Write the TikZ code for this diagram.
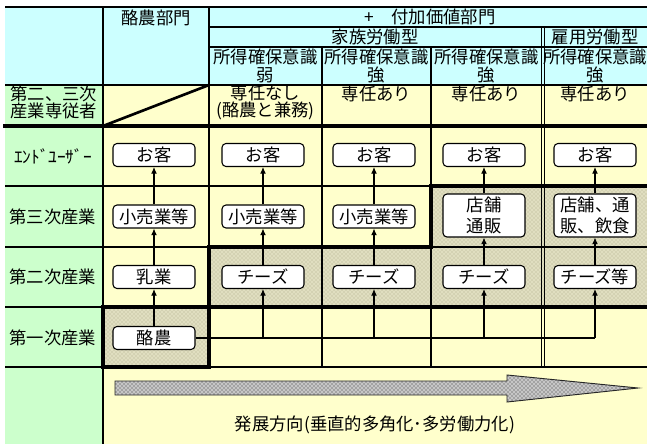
\documentclass[tikz,border=0pt]{standalone}
\usepackage{fontspec}
\setmainfont{Noto Sans CJK JP}
\usetikzlibrary{arrows.meta,patterns}
\definecolor{cblue}{HTML}{CCFFFF}
\definecolor{cyel}{HTML}{FFFFCC}
\definecolor{cgreen}{HTML}{CCFFCC}
\definecolor{chatch}{HTML}{E0DEC0}
\definecolor{chdot}{HTML}{B0AD8A}
\tikzset{
  thinln/.style={line width=1pt},
  thickln/.style={line width=3pt, line join=miter, line cap=rect},
  txt/.style={inner sep=0pt, font=\fontsize{13}{13}\selectfont, align=center},
  box/.style={draw, line width=0.8pt, rounded corners=3pt, fill=white, inner sep=0pt,
    minimum width=61.5pt, minimum height=17.25pt, align=center,
    font=\fontsize{13}{15.5}\selectfont},
  box2/.style={box, minimum height=32.25pt},
  arr/.style={line width=0.8pt, -{Latex[length=5pt,width=4.5pt]}},
  conn/.style={line width=0.8pt},
  hatch/.style={fill=chatch, postaction={pattern=crosshatch dots, pattern color=chdot}}
}
\begin{document}
\begin{tikzpicture}[x=0.75pt,y=-0.75pt]
\useasboundingbox (0,0) rectangle (647,444);
\fill[white] (0,0) rectangle (647,444);
% backgrounds
\fill[cblue] (5,7) rectangle (647,85);
\fill[cgreen] (5,85) rectangle (103,444);
\fill[cyel] (103,85) rectangle (647,444);
\path[hatch] (103,307) rectangle (209,367);
\path[hatch] (209,247) rectangle (647,307);
\path[hatch] (431,186) rectangle (647,247);
% thin grid lines
\draw[line width=1.5pt] (5,7) -- (647,7);
\draw[thinln] (209,27) -- (647,27);
\draw[thinln] (209,47) -- (647,47);
\draw[line width=1.5pt] (5,85) -- (647,85);
\draw[thinln] (5,186) -- (431,186);
\draw[thinln] (5,247) -- (209,247) (431,247) -- (647,247);
\draw[thinln] (5,307) -- (103,307);
\draw[thinln] (5,367) -- (103,367) (209,367) -- (647,367);
\draw[thinln] (103,7) -- (103,444);
\draw[thinln] (209,7) -- (209,247);
\draw[thinln] (322,47) -- (322,367);
\draw[thinln] (431,47) -- (431,367);
\draw[thinln] (541.2,27) -- (541.2,367);
\draw[thinln] (544.2,27) -- (544.2,367);
% diagonal
\draw[line width=2pt] (103,126) -- (209,85);
% thick lines
\draw[thickln] (5,126) -- (647,126);
\draw[thickln] (647,186) -- (431,186) -- (431,247) -- (209,247) -- (209,367) -- (103,367) -- (103,307) -- (647,307);
% header texts
\node[txt] (hA) at (156,18) {酪農部門};
\node[txt] (hB) at (430,17) {+　付加価値部門};
\node[txt] (hC) at (375,37) {家族労働型};
\node[txt] (hD) at (595,37) {雇用労働型};
\node[txt] (s2) at (265.5,66) {所得確保意識\\弱};
\node[txt] (s3) at (376.5,66) {所得確保意識\\強};
\node[txt] (s4) at (486.5,66) {所得確保意識\\強};
\node[txt] (s5) at (595,66) {所得確保意識\\強};
\node[txt] (e2) at (265.5,102.5) {専任なし\\(酪農と兼務)};
\node[txt] (e3) at (376.5,94) {専任あり};
\node[txt] (e4) at (486.5,94) {専任あり};
\node[txt] (e5) at (595,94) {専任あり};
% row labels
\node[txt] (l0) at (54,102.5) {第二、三次\\産業専従者};
\node[txt] (l1) at (53,156) {ｴﾝﾄﾞﾕｰｻﾞｰ};
\node[txt] (l2) at (53,216.5) {第三次産業};
\node[txt] (l3) at (53,277) {第二次産業};
\node[txt] (l4) at (53,337.5) {第一次産業};
% boxes
\node[box] (k1) at (154,155) {お客};
\node[box] (k2) at (263,155) {お客};
\node[box] (k3) at (374,155) {お客};
\node[box] (k4) at (484,155) {お客};
\node[box] (k5) at (595,155) {お客};
\node[box] (r1) at (154,216.5) {小売業等};
\node[box] (r2) at (263,216.5) {小売業等};
\node[box] (r3) at (374,216.5) {小売業等};
\node[box2] (r4) at (484,215.5) {店舗\\通販};
\node[box2] (r5) at (595,215.5) {店舗、通\\販、飲食};
\node[box] (m1) at (154,277) {乳業};
\node[box] (m2) at (263,277) {チーズ};
\node[box] (m3) at (374,277) {チーズ};
\node[box] (m4) at (484,277) {チーズ};
\node[box] (m5) at (595,277) {チーズ等};
\node[box] (p1) at (154,338) {酪農};
% arrows
\foreach \i in {1,...,5}{
  \draw[arr] (m\i.north) -- (r\i.south);
  \draw[arr] (r\i.north) -- (k\i.south);
}
\draw[arr] (p1.north) -- (m1.south);
\draw[conn] (p1.east) -- (p1.east -| m5.south);
\foreach \i in {2,...,5}{
  \draw[arr] (p1.east -| m\i.south) -- (m\i.south);
}
% development arrow
\draw[line width=0.7pt, draw=gray!30!black, fill=gray!45,
  postaction={pattern=crosshatch dots, pattern color=gray!40!black}]
  (115,381) -- (507,381) -- (507,375) -- (638,388) -- (507,402) -- (507,395) -- (115,395) -- cycle;
\node[txt] (dev) at (375,425) {発展方向(垂直的多角化･多労働力化)};
\end{tikzpicture}
\end{document}
